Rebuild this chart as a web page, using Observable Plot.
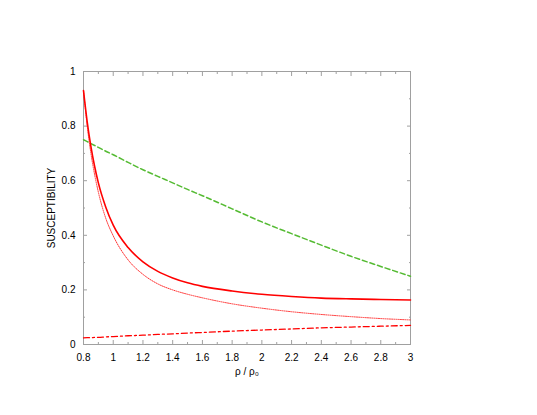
<!DOCTYPE html>
<html><head><meta charset="utf-8">
<script src="https://cdn.jsdelivr.net/npm/d3@7"></script>
<script src="https://cdn.jsdelivr.net/npm/@observablehq/plot@0.6"></script>
<style>body{margin:0;background:#fff;} svg{font-family:"Liberation Sans",Arial,sans-serif;}</style>
</head><body><div id="chart"></div>
<script>
const rho = [0.8,0.825,0.85,0.875,0.9,0.95,1.0,1.1,1.2,1.3,1.4,1.5,1.6,1.8,2.0,2.2,2.4,2.6,2.8,3.0];
const solidRed = [0.930,0.815,0.725,0.652,0.592,0.503,0.437,0.355,0.303,0.268,0.244,0.226,0.213,0.196,0.184,0.176,0.170,0.167,0.165,0.163];
const dottedRed = [0.930,0.800,0.700,0.622,0.558,0.462,0.398,0.310,0.257,0.222,0.200,0.184,0.171,0.149,0.133,0.120,0.110,0.102,0.095,0.090];
const dashedGreen = [0.750,0.743,0.736,0.729,0.722,0.708,0.695,0.667,0.640,0.616,0.592,0.568,0.545,0.497,0.449,0.406,0.364,0.323,0.286,0.250];
const dashDotRed = [0.024,0.025,0.025,0.026,0.026,0.028,0.029,0.032,0.034,0.037,0.039,0.042,0.044,0.049,0.053,0.057,0.061,0.064,0.067,0.070];
const xMajor = [0.8,1,1.2,1.4,1.6,1.8,2,2.2,2.4,2.6,2.8,3];
const xMinor = [0.9,1.1,1.3,1.5,1.7,1.9,2.1,2.3,2.5,2.7,2.9];
const yMajor = [0,0.2,0.4,0.6,0.8,1];
const yMinor = [0.1,0.3,0.5,0.7,0.9];

const series = (ys) => rho.map((x, i) => ({x, y: ys[i]}));
const fmt = d => String(+d.toFixed(1));
const frameColor = "#a0a0a0";

const chart = Plot.plot({
  width: 537, height: 415,
  marginLeft: 83, marginRight: 127, marginTop: 71, marginBottom: 71,
  style: {fontSize: "10px", fontFamily: "'Liberation Sans', Arial, sans-serif", color: "#000"},
  x: {domain: [0.8, 3]},
  y: {domain: [0, 1]},
  marks: [
    Plot.frame({stroke: frameColor}),
    Plot.axisX(xMajor, {anchor: "bottom", tickSize: -4, text: null, label: null, stroke: frameColor}),
    Plot.axisX(xMinor, {anchor: "bottom", tickSize: -2, text: null, label: null, stroke: frameColor}),
    Plot.axisX(xMajor, {anchor: "top", tickSize: -4, text: null, label: null, stroke: frameColor}),
    Plot.axisX(xMinor, {anchor: "top", tickSize: -2, text: null, label: null, stroke: frameColor}),
    Plot.axisY(yMajor, {anchor: "left", tickSize: -4, text: null, label: null, stroke: frameColor}),
    Plot.axisY(yMinor, {anchor: "left", tickSize: -2, text: null, label: null, stroke: frameColor}),
    Plot.axisY(yMajor, {anchor: "right", tickSize: -4, text: null, label: null, stroke: frameColor}),
    Plot.axisY(yMinor, {anchor: "right", tickSize: -2, text: null, label: null, stroke: frameColor}),
    Plot.axisX(xMajor, {anchor: "bottom", tickSize: 0, tickPadding: 9, tickFormat: fmt, label: "ρ / ρ₀", labelAnchor: "center", labelArrow: "none", labelOffset: 30}),
    Plot.axisY(yMajor, {anchor: "left", tickSize: 0, tickPadding: 8, tickFormat: fmt, label: "SUSCEPTIBILITY", labelAnchor: "center", labelArrow: "none", labelOffset: 36}),
    Plot.line(series(dashedGreen), {x: "x", y: "y", stroke: "#55bb33", strokeWidth: 1.5, strokeDasharray: "5,3", curve: "monotone-x"}),
    Plot.line(series(dashDotRed), {x: "x", y: "y", stroke: "#ff0000", strokeWidth: 1.3, strokeDasharray: "6,3,2,3", curve: "monotone-x"}),
    Plot.line(series(dottedRed), {x: "x", y: "y", stroke: "#ff3030", strokeWidth: 1, strokeDasharray: "1,1.2", curve: "monotone-x"}),
    Plot.line(series(solidRed), {x: "x", y: "y", stroke: "#ff0000", strokeWidth: 1.6, curve: "monotone-x"})
  ]
});
document.getElementById("chart").appendChild(chart);
</script>
</body></html>
